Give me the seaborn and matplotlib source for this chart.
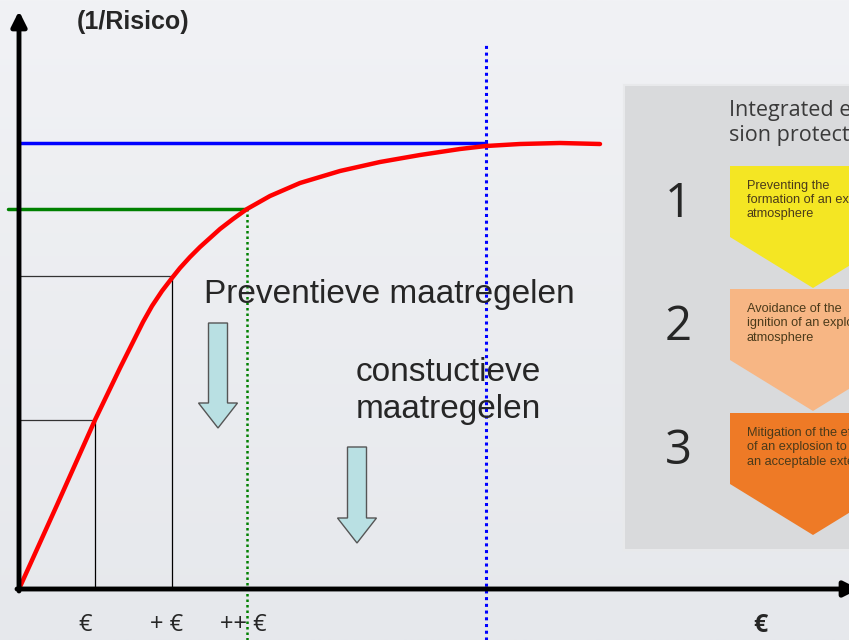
import numpy as np
import pandas as pd
import seaborn as sns
import matplotlib.pyplot as plt
from matplotlib.patches import Polygon, Rectangle, FancyArrow

# data: cost (x) against safety = 1/risk (y)
cost = [0, 38, 76, 101, 124, 133, 143, 153, 161, 171, 181, 191, 201, 214,
        228, 251, 281, 321, 361, 401, 441, 467, 501, 541, 581]
safety = [0, 84, 169, 221, 267, 283, 298, 311, 321, 332, 342, 351, 360, 370,
          380, 393, 406, 418, 427, 434, 440, 443, 445, 446, 445]

# reference levels
step_cost = [76, 153]
step_safety = [169, 313]
green_cost, green_safety = 228, 380
blue_cost, blue_safety = 467, 446

euro_labels = ["€", "+ €", "++ €"]
euro_pos = [66, 148, 224]

steps = ["1", "2", "3"]
step_text = ["Preventing the\nformation of an explosive\natmosphere",
             "Avoidance of the\nignition of an explosive\natmosphere",
             "Mitigation of the effect\nof an explosion to\nan acceptable extent"]
step_colors = ["#f4e623", "#f7b684", "#ee7a26"]

df = pd.DataFrame({"cost": cost, "safety": safety})

sns.set_style("white")
plt.rcParams['font.family'] = ['Liberation Sans', 'DejaVu Sans']

fig = plt.figure(figsize=(8.49, 6.40), dpi=100)
ax = fig.add_axes([0, 0, 1, 1])
ax.set_xlim(-19, 830)
ax.set_ylim(-51, 589)
fig.patch.set_facecolor("#eceef1")

# background gradient
grad = np.linspace(0, 1, 256).reshape(-1, 1)
ax.imshow(grad, extent=[-19, 830, -51, 589], aspect="auto",
          cmap=sns.blend_palette(["#f1f2f5", "#e6e8ec"], as_cmap=True), zorder=0)

# right panel
ax.add_patch(Rectangle((605, 39), 230, 465, facecolor="#d9dadc",
                       edgecolor="#e8e9eb", lw=1.5, zorder=1))
ax.text(710, 489, "Integrated explo-\nsion protection", fontsize=15.5,
        color="#3a3a3a", va="top", family="Open Sans", linespacing=1.25, zorder=2)
tops = [423, 300, 176]
for num, txt, col, top in zip(steps, step_text, step_colors, tops):
    side = top - 71
    tip = top - 122
    ax.add_patch(Polygon([(711, top), (877, top), (877, side), (794, tip), (711, side)],
                         closed=True, facecolor=col, edgecolor="none", zorder=2))
    ax.text(659, top - 38, num, fontsize=34, ha="center", va="center",
            color="#262626", family="Open Sans", zorder=3)
    ax.text(728, top - 14, txt, fontsize=9.2, va="top", color="#4a3a1a",
            linespacing=1.25, zorder=3)

# helper lines
for c, s in zip(step_cost, step_safety):
    ax.plot([0, c], [s, s], color="#333333", lw=0.9, zorder=3)
    ax.plot([c, c], [0, s], color="black", lw=0.9, zorder=3)
ax.plot([-11, green_cost], [green_safety, green_safety], color="green", lw=2.5, zorder=3)
ax.plot([0, blue_cost], [blue_safety, blue_safety], color="blue", lw=2.5, zorder=3)
ax.plot([green_cost, green_cost], [-51, green_safety], color="green", lw=1.8,
        ls=(0, (1, 1.2)), zorder=3)
ax.plot([blue_cost, blue_cost], [-51, 544], color="blue", lw=2.2,
        ls=(0, (1, 1.2)), zorder=3)

# risk curve
sns.lineplot(data=df, x="cost", y="safety", color="red", lw=3.2, sort=False,
             ax=ax, zorder=4)
ax.axis("off")

# axes arrows
ax.annotate("", xy=(0, 578), xytext=(0, -2), annotation_clip=False,
            arrowprops=dict(arrowstyle="-|>,head_length=0.9,head_width=0.45",
                            lw=3.5, color="black", shrinkA=0, shrinkB=0), zorder=5)
ax.annotate("", xy=(840, 0), xytext=(-2, 0), annotation_clip=False,
            arrowprops=dict(arrowstyle="-|>,head_length=0.9,head_width=0.45",
                            lw=3.5, color="black", shrinkA=0, shrinkB=0), zorder=5)

# block arrows
for x0, y0, length in [(199, 266, 105), (338, 142, 96)]:
    ax.add_patch(FancyArrow(x0, y0, 0, -length, width=19, head_width=39,
                            head_length=25, length_includes_head=True,
                            facecolor="#b9e0e3", edgecolor="#555555", lw=1, zorder=5))

# texts
ax.text(58, 567, "(1/Risico)", fontsize=18, fontweight="bold", va="center", zorder=6)
ax.text(185, 294, "Preventieve maatregelen", fontsize=24, va="center", zorder=6)
ax.text(337, 198, "constuctieve\nmaatregelen", fontsize=24, va="center",
        linespacing=1.25, zorder=6)
for lab, pos in zip(euro_labels, euro_pos):
    ax.text(pos, -36, lab, fontsize=17, ha="center", va="center",
            family="Open Sans", zorder=6)
ax.text(741, -36, "€", fontsize=18, fontweight="bold", ha="center", va="center",
        family="Open Sans", zorder=6)

fig.savefig("out.png", dpi=100, facecolor=fig.get_facecolor())
